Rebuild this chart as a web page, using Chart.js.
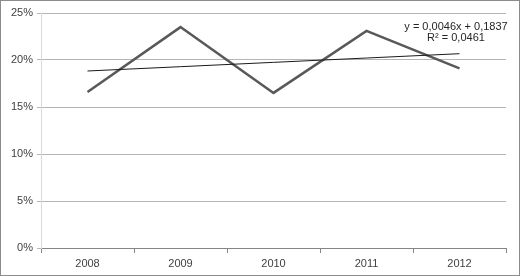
<!DOCTYPE html>
<html>
<head>
<meta charset="utf-8">
<script src="https://cdn.jsdelivr.net/npm/chart.js@4/dist/chart.umd.min.js"></script>
<style>
  html, body { margin: 0; padding: 0; background: #fff; }
  #wrap { width: 520px; height: 276px; box-sizing: border-box; border: 1px solid #8c8c8c; }
  canvas { display: block; }
</style>
</head>
<body>
<div id="wrap"><canvas id="chart" width="518" height="274"></canvas></div>
<script>
const years = ['2008', '2009', '2010', '2011', '2012'];
const shares = [0.166, 0.235, 0.165, 0.231, 0.191];
// trendline coefficients as printed on the chart (x = 1..5)
const trendSlope = 0.0046;
const trendIntercept = 0.1837;
const trendLabel = ['y = 0,0046x + 0,1837', 'R² = 0,0461'];

const trend = years.map((_, i) => trendIntercept + trendSlope * (i + 1));

const labelFont = '11px "Liberation Sans", "DejaVu Sans", sans-serif';

const equationLabel = {
    id: 'equationLabel',
    afterDatasetsDraw(chart) {
        const ctx = chart.ctx;
        ctx.save();
        ctx.font = labelFont;
        ctx.fillStyle = '#262626';
        ctx.textAlign = 'center';
        ctx.textBaseline = 'middle';
        ctx.fillText(trendLabel[0], 455, 26);
        ctx.fillText(trendLabel[1], 455, 37);
        ctx.restore();
    }
};

new Chart(document.getElementById('chart'), {
    type: 'line',
    data: {
        labels: years,
        datasets: [
            { data: shares, borderColor: '#595959', borderWidth: 2.5, pointRadius: 0, tension: 0, order: 1 },
            { data: trend, borderColor: '#1a1a1a', borderWidth: 1, pointRadius: 0, tension: 0, order: 0 }
        ]
    },
    options: {
        responsive: false,
        animation: false,
        layout: { padding: { left: 0, right: 13, top: 12, bottom: 0 } },
        plugins: { legend: { display: false }, tooltip: { enabled: false } },
        scales: {
            x: {
                offset: true,
                grid: { offset: true, drawOnChartArea: false, tickLength: 5, color: '#868686' },
                border: { color: '#868686' },
                ticks: { color: '#404040', font: { family: '"Liberation Sans", "DejaVu Sans", sans-serif', size: 11 }, padding: 4 },
                afterFit: s => { s.height = 27; }
            },
            y: {
                min: 0, max: 0.25,
                grid: { color: '#b5b5b5', tickLength: 4 },
                border: { color: '#d9d9d9' },
                ticks: {
                    stepSize: 0.05,
                    color: '#404040',
                    padding: 4,
                    font: { family: '"Liberation Sans", "DejaVu Sans", sans-serif', size: 11 },
                    callback: v => Math.round(v * 100) + '%'
                },
                afterFit: s => { s.width = 40; }
            }
        }
    },
    plugins: [equationLabel]
});
</script>
</body>
</html>
